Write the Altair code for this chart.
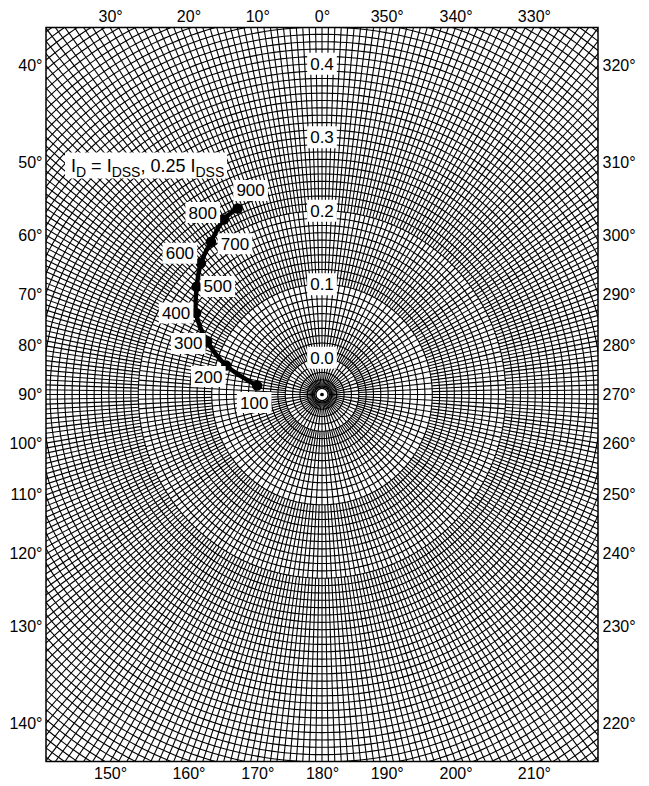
import altair as alt
import numpy as np
import pandas as pd

# ---------------- values ----------------
FREQ_MHZ = [100, 200, 300, 400, 500, 600, 700, 800, 900]
MAGNITUDE = [0.039, 0.086, 0.122, 0.154, 0.175, 0.193, 0.207, 0.223, 0.228]
ANGLE_DEG = [82.2, 73.2, 65.2, 57.1, 49.2, 42.7, 36.0, 29.3, 24.4]

RING_LABELS = [0.0, 0.1, 0.2, 0.3, 0.4]
TOP_ANGLES = [30, 20, 10, 0, 350, 340, 330]
LEFT_ANGLES = [40, 50, 60, 70, 80, 90, 100, 110, 120, 130, 140]
BOTTOM_ANGLES = [150, 160, 170, 180, 190, 200, 210]
RIGHT_ANGLES = [320, 310, 300, 290, 280, 270, 260, 250, 240, 230, 220]

LEGEND_PIECES = [("I", False), ("D", True), (" = I", False), ("DSS", True),
                 (", 0.25 I", False), ("DSS", True)]

# ---------------- chart geometry / styling ----------------
K = 735.0                 # pixels per unit of magnitude
HALF_W, HALF_H = 276, 367
XMAX, YMAX = HALF_W / K, HALF_H / K
OFFSET = 0.05             # radial position of magnitude 0.0
FONT = "Liberation Sans"
GRID_W = 1.1

# radial-line zones of the polar paper: (start, end, angular step in degrees)
ZONES = [(0.01, 0.05, 6.0), (0.05, 0.15, 3.0), (0.15, 0.25, 1.5), (0.25, 0.64, 1.0)]

# label offsets (px, screen directions) for the frequency labels
LABEL_OFFSET_PX = {100: (-3, 17), 200: (-18, 11), 300: (-19, 2), 400: (-20, 0),
                   500: (21, 0), 600: (-21, -10), 700: (24, 2), 800: (-21, -7),
                   900: (13, -18)}

xscale = alt.Scale(domain=[-XMAX, XMAX], nice=False, zero=False)
yscale = alt.Scale(domain=[-YMAX, YMAX], nice=False, zero=False)

# ---------------- grid (polar paper) ----------------
theta = np.radians(np.arange(0, 361, 1.0))
circ_rows = []
for i in range(1, 64):
    u = i * 0.01
    xs = np.round(-u * np.sin(theta), 5)
    ys = np.round(u * np.cos(theta), 5)
    for k, (a, b) in enumerate(zip(xs, ys)):
        circ_rows.append((i, k, a, b))
circles = pd.DataFrame(circ_rows, columns=["cid", "k", "x", "y"])

rad_rows = []
for u0, u1, step in ZONES:
    n = int(round(360 / step))
    for j in range(n):
        t = np.radians(j * step)
        rad_rows.append((round(-u0 * np.sin(t), 5), round(u0 * np.cos(t), 5),
                         round(-u1 * np.sin(t), 5), round(u1 * np.cos(t), 5)))
radials = pd.DataFrame(rad_rows, columns=["x", "y", "x2", "y2"])


def axis(orient, values, expr, pad=5):
    return alt.Axis(orient=orient, values=values, labelExpr=expr, ticks=False,
                    domain=False, grid=False, labelFontSize=16, labelFont=FONT,
                    labelColor="black", labelPadding=pad, labelFlush=False,
                    labelOverlap=False, title=None)


top_vals = [float(-YMAX * np.tan(np.radians(a))) for a in TOP_ANGLES]
bot_vals = [float(YMAX * np.tan(np.radians(a))) for a in BOTTOM_ANGLES]
left_vals = [float(XMAX * np.cos(np.radians(a)) / np.sin(np.radians(a))) for a in LEFT_ANGLES]
right_vals = [float(-XMAX * np.cos(np.radians(a)) / np.sin(np.radians(a))) for a in RIGHT_ANGLES]

top_expr = f"format((round(atan(-datum.value/{YMAX})*180/PI)+360)%360,'d')+'°'"
bot_expr = f"format(180+round(atan(datum.value/{YMAX})*180/PI),'d')+'°'"
left_expr = f"format(90-round(atan(datum.value/{XMAX})*180/PI),'d')+'°'"
right_expr = f"format(270+round(atan(datum.value/{XMAX})*180/PI),'d')+'°'"

X0 = lambda f: alt.X(f, scale=xscale, axis=None)
Y0 = lambda f: alt.Y(f, scale=yscale, axis=None)

circle_layer = alt.Chart(circles).mark_line(clip=True, color="black", strokeWidth=GRID_W).encode(
    x=alt.X("x:Q", scale=xscale, axis=axis("bottom", bot_vals, bot_expr, 4)),
    y=alt.Y("y:Q", scale=yscale, axis=axis("left", left_vals, left_expr, 4)),
    detail="cid:N",
    order="k:Q",
)

radial_layer = alt.Chart(radials).mark_rule(clip=True, color="black", strokeWidth=GRID_W).encode(
    x=X0("x:Q"), y=Y0("y:Q"), x2="x2:Q", y2="y2:Q",
)

# center marker
center_df = pd.DataFrame({"x": [0.0], "y": [0.0]})
center_disc = alt.Chart(center_df).mark_point(
    shape="circle", filled=True, color="white", size=150, opacity=1
).encode(x=X0("x:Q"), y=Y0("y:Q"))
center_ring = alt.Chart(center_df).mark_point(
    shape="circle", filled=False, color="black", size=150, strokeWidth=1.4, opacity=1
).encode(x=X0("x:Q"), y=Y0("y:Q"))
center_dot = alt.Chart(center_df).mark_point(
    shape="circle", filled=True, color="black", size=14, opacity=1
).encode(x=X0("x:Q"), y=Y0("y:Q"))

# ring labels 0.0 ... 0.4
ring_df = pd.DataFrame({"val": RING_LABELS})
ring_base = alt.Chart(ring_df).transform_calculate(
    x="0", y=f"datum.val + {OFFSET}", lab="format(datum.val, '.1f')"
)
ring_box = ring_base.mark_point(
    shape="M-1.35,-1H1.35V1H-1.35Z", filled=True, color="white", size=484, opacity=1
).encode(x=X0("x:Q"), y=Y0("y:Q"))
ring_text = ring_base.mark_text(font=FONT, fontSize=17, color="black", baseline="middle", dy=1).encode(
    x=X0("x:Q"), y=Y0("y:Q"), text="lab:N"
)

# legend annotation I_D = I_DSS, 0.25 I_DSS
leg_box_df = pd.DataFrame({"x": [(146 - 322) / K], "y": [(394.5 - 165.5) / K]})
legend_box = alt.Chart(leg_box_df).mark_point(
    shape="M-6.23,-1H6.23V1H-6.23Z", filled=True, color="white", size=676, opacity=1
).encode(x=X0("x:Q"), y=Y0("y:Q"))

MAIN_SIZE, SUB_SIZE = 18, 14
WIDTHS = {"I": 278, "D": 722, " ": 278, "=": 584, "S": 667, ",": 278, "0": 556,
          ".": 278, "2": 556, "5": 556}
anchor_df = pd.DataFrame({"x": [(71 - 322) / K], "y": [(394.5 - 172) / K]})
legend_layers = []
cur = 0.0
for txt, sub in LEGEND_PIECES:
    fs = SUB_SIZE if sub else MAIN_SIZE
    lead = len(txt) - len(txt.lstrip(" "))
    start = cur + lead * WIDTHS[" "] * fs / 1000.0
    legend_layers.append(
        alt.Chart(anchor_df).mark_text(
            text=txt.strip(" "), font=FONT, fontSize=fs, color="black", align="left",
            baseline="alphabetic", dx=start, dy=5 if sub else 0
        ).encode(x=X0("x:Q"), y=Y0("y:Q"))
    )
    cur += sum(WIDTHS[c] for c in txt) * fs / 1000.0

# measured curve
curve_df = pd.DataFrame({"freq": FREQ_MHZ, "mag": MAGNITUDE, "ang": ANGLE_DEG})
curve_df["ox"] = [LABEL_OFFSET_PX[f][0] for f in FREQ_MHZ]
curve_df["oy"] = [LABEL_OFFSET_PX[f][1] for f in FREQ_MHZ]
curve_base = alt.Chart(curve_df).transform_calculate(
    r=f"datum.mag + {OFFSET}",
).transform_calculate(
    x="-datum.r*sin(datum.ang*PI/180)",
    y="datum.r*cos(datum.ang*PI/180)",
).transform_calculate(
    lx=f"datum.x + datum.ox/{K}",
    ly=f"datum.y - datum.oy/{K}",
    lab="format(datum.freq, 'd')",
)

curve_line = curve_base.mark_line(color="black", strokeWidth=4.5, interpolate="catmull-rom").encode(
    x=alt.X("x:Q", scale=xscale, axis=axis("top", top_vals, top_expr, 3)),
    y=alt.Y("y:Q", scale=yscale, axis=axis("right", right_vals, right_expr, 4)),
    order="freq:Q",
)
curve_pts = curve_base.mark_point(shape="circle", filled=True, color="black", size=110, opacity=1).encode(
    x=X0("x:Q"), y=Y0("y:Q")
)
lab_box = curve_base.mark_point(
    shape="M-1.65,-1H1.65V1H-1.65Z", filled=True, color="white", size=441, opacity=1
).encode(x=X0("lx:Q"), y=Y0("ly:Q"))
lab_text = curve_base.mark_text(font=FONT, fontSize=17, color="black", baseline="middle", dy=1).encode(
    x=X0("lx:Q"), y=Y0("ly:Q"), text="lab:N"
)

chart = alt.layer(
    circle_layer, radial_layer, center_disc, center_ring, center_dot,
    ring_box, ring_text, legend_box, *legend_layers,
    curve_line, curve_pts, lab_box, lab_text,
).resolve_axis(x="independent", y="independent").properties(
    width=2 * HALF_W, height=2 * HALF_H,
    autosize=alt.AutoSizeParams(type="none"),
    padding={"left": 38, "top": 19.5, "right": 42, "bottom": 23},
).configure_view(stroke="black", strokeWidth=1.5)

chart.save("out.html", embed_options={"renderer": "svg", "actions": False})
